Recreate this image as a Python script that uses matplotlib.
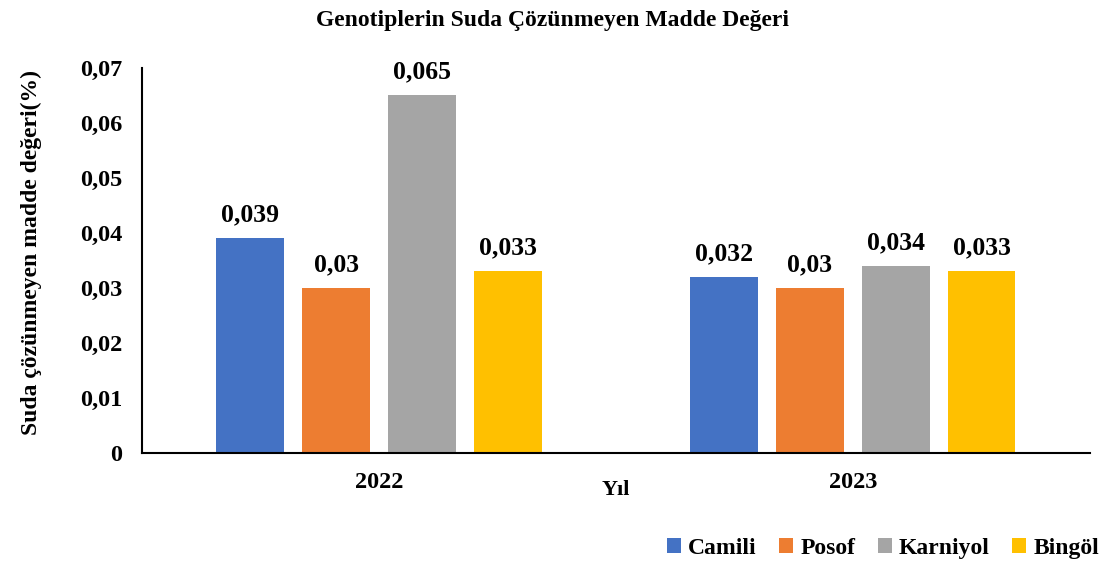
import numpy as np
import matplotlib.pyplot as plt
from matplotlib.ticker import FuncFormatter

plt.rcParams['font.family'] = ['Liberation Serif', 'DejaVu Serif']
plt.rcParams['font.weight'] = 'bold'

years = ['2022', '2023']
genotypes = ['Camili', 'Posof', 'Karniyol', 'Bingöl']
values = {
    'Camili': [0.039, 0.032],
    'Posof': [0.030, 0.030],
    'Karniyol': [0.065, 0.034],
    'Bingöl': [0.033, 0.033],
}
colors = ['#4472C4', '#ED7D31', '#A5A5A5', '#FFC000']


def fmt(v):
    s = ('%.3f' % v).rstrip('0').rstrip('.')
    return s.replace('.', ',')


fig = plt.figure(figsize=(11.06, 5.62), dpi=100)
ax = fig.add_axes([0.1284, 0.194, 0.857, 0.685])

x = np.arange(len(years))
step = 0.181
width = 0.143
for i, g in enumerate(genotypes):
    pos = x + (i - 1.5) * step
    bars = ax.bar(pos, values[g], width, color=colors[i], label=g)
    for b, v in zip(bars, values[g]):
        ax.text(b.get_x() + b.get_width() / 2, v + 0.0022, fmt(v),
                ha='center', va='bottom', fontsize=18.5, fontweight='bold')

ax.set_xlim(-0.5, 1.5)
ax.set_ylim(0, 0.07)
ax.set_yticks(np.arange(0, 0.071, 0.01))
ax.yaxis.set_major_formatter(FuncFormatter(lambda v, p: '0' if v == 0 else ('%.2f' % v).replace('.', ',')))
ax.set_xticks(x)
ax.set_xticklabels(years)
ax.tick_params(axis='both', length=0, labelsize=17.5)
ax.tick_params(axis='y', pad=14)
ax.tick_params(axis='x', pad=14)
for s in ['top', 'right']:
    ax.spines[s].set_visible(False)
for s in ['left', 'bottom']:
    ax.spines[s].set_linewidth(1.5)

ax.set_xlabel('Yıl', fontsize=16, fontweight='bold', labelpad=-10)
ax.set_ylabel('Suda çözünmeyen madde değeri(%)', fontsize=17, fontweight='bold')
ax.yaxis.set_label_coords(-0.106, 0.52)
fig.suptitle('Genotiplerin Suda Çözünmeyen Madde Değeri', fontsize=17, fontweight='bold', y=0.982)

fig.legend(loc='lower right', bbox_to_anchor=(1.013, -0.033), ncol=4, frameon=False,
           fontsize=17, handlelength=0.6, handleheight=0.6, handletextpad=0.3,
           columnspacing=0.95)

fig.savefig('out.png', dpi=100)
